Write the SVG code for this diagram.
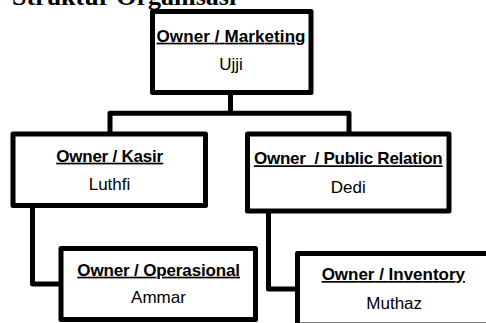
<svg xmlns="http://www.w3.org/2000/svg" width="486" height="323" viewBox="0 0 486 323">
<style>
.box{fill:#fff;stroke:#000;stroke-width:5;stroke-linejoin:round}
.conn{fill:none;stroke:#000;stroke-width:5;stroke-linejoin:round;stroke-linecap:butt}
.role{font-family:"Liberation Sans",Arial,sans-serif;font-weight:bold;font-size:17px;text-anchor:middle;text-decoration:underline;fill:#000}
.name{font-family:"Liberation Sans",Arial,sans-serif;font-size:17px;text-anchor:middle;fill:#000}
.title{font-family:"Liberation Serif","Times New Roman",serif;font-weight:bold;font-size:26px;fill:#000}
</style>
<rect width="486" height="323" fill="#fff"/>
<text class="title" x="12" y="5">Struktur Organisasi</text>
<g id="connectors">
<path class="conn" d="M230.5 92.5 V113.3"/>
<path class="conn" d="M110 134 V113.3 H349 V134"/>
<path class="conn" d="M32.5 205.5 V284 H61"/>
<path class="conn" d="M268.5 211 V289 H297.5"/>
</g>
<g id="marketing">
<rect class="box" x="152.5" y="11.5" width="158.5" height="81"/>
<text class="role" x="231" y="41.7" textLength="149">Owner / Marketing</text>
<text class="name" x="231" y="70">Ujji</text>
</g>
<g id="kasir">
<rect class="box" x="13" y="134" width="192.5" height="71.5"/>
<text class="role" x="109.7" y="161.7" textLength="107">Owner / Kasir</text>
<text class="name" x="109.5" y="190">Luthfi</text>
</g>
<g id="public-relation">
<rect class="box" x="247.5" y="134" width="201.5" height="77"/>
<text class="role" x="348.3" y="164.3" textLength="188.7" xml:space="preserve">Owner  / Public Relation</text>
<text class="name" x="348.3" y="193.3">Dedi</text>
</g>
<g id="operasional">
<rect class="box" x="61" y="248.5" width="194.5" height="71"/>
<text class="role" x="158.7" y="275.7" textLength="162.7">Owner / Operasional</text>
<text class="name" x="158.5" y="302.7">Ammar</text>
</g>
<g id="inventory">
<rect class="box" x="297.5" y="253.5" width="210" height="71.5"/>
<text class="role" x="393.3" y="280" textLength="143.3">Owner / Inventory</text>
<text class="name" x="394.2" y="309.3">Muthaz</text>
</g>
</svg>
